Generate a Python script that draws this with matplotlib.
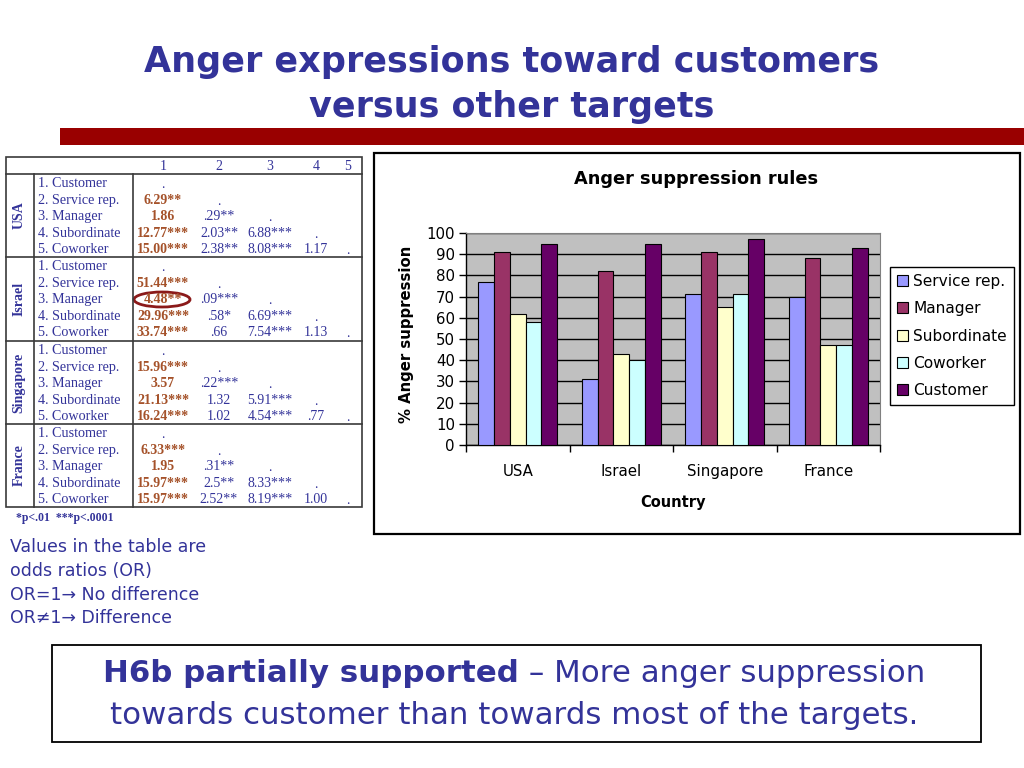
import matplotlib
matplotlib.use('Agg')
import matplotlib.pyplot as plt
from matplotlib.patches import Rectangle, Ellipse
import numpy as np

# ---------------- data ----------------
countries = ['USA', 'Israel', 'Singapore', 'France']
targets = ['Service rep.', 'Manager', 'Subordinate', 'Coworker', 'Customer']
service_rep = [77, 31, 71, 70]
manager = [91, 82, 91, 88]
subordinate = [62, 43, 65, 47]
coworker = [58, 40, 71, 47]
customer = [95, 95, 97, 93]
series = [service_rep, manager, subordinate, coworker, customer]
bar_colors = ['#9999ff', '#993366', '#ffffcc', '#ccffff', '#660066']

table_rows = ['1. Customer', '2. Service rep.', '3. Manager', '4. Subordinate', '5. Coworker']
table_cols = ['1', '2', '3', '4', '5']
or_usa = [['.'],
          ['6.29**', '.'],
          ['1.86', '.29**', '.'],
          ['12.77***', '2.03**', '6.88***', '.'],
          ['15.00***', '2.38**', '8.08***', '1.17', '.']]
or_israel = [['.'],
             ['51.44***', '.'],
             ['4.48**', '.09***', '.'],
             ['29.96***', '.58*', '6.69***', '.'],
             ['33.74***', '.66', '7.54***', '1.13', '.']]
or_singapore = [['.'],
                ['15.96***', '.'],
                ['3.57', '.22***', '.'],
                ['21.13***', '1.32', '5.91***', '.'],
                ['16.24***', '1.02', '4.54***', '.77', '.']]
or_france = [['.'],
             ['6.33***', '.'],
             ['1.95', '.31**', '.'],
             ['15.97***', '2.5**', '8.33***', '.'],
             ['15.97***', '2.52**', '8.19***', '1.00', '.']]
odds_tables = [or_usa, or_israel, or_singapore, or_france]

title_lines = ['Anger expressions toward customers', 'versus other targets']
note_lines = ['Values in the table are', 'odds ratios (OR)',
              'OR=1\u2192 No difference', 'OR\u22601\u2192 Difference']
summary_bold = 'H6b partially supported'
summary_rest = ' \u2013 More anger suppression'
summary_line2 = 'towards customer than towards most of the targets.'

# ---------------- figure ----------------
W, H = 1024, 768
NAVY = '#333399'
BROWN = '#a5522a'
SANS = ['DejaVu Sans']
SERIF = ['Liberation Serif', 'DejaVu Serif']

fig = plt.figure(figsize=(10.24, 7.68), dpi=100)
bg = fig.add_axes([0, 0, 1, 1])
bg.set_xlim(0, W)
bg.set_ylim(H, 0)
bg.axis('off')
renderer = fig.canvas.get_renderer()

# title
bg.text(512, 62, title_lines[0], ha='center', va='center', fontsize=25.2,
        fontweight='bold', color=NAVY, family=SANS)
bg.text(512, 107, title_lines[1], ha='center', va='center', fontsize=25.2,
        fontweight='bold', color=NAVY, family=SANS)
bg.add_patch(Rectangle((60, 128), 964, 17, facecolor='#990000', edgecolor='none'))

# ---------------- table ----------------
LC = '#3a3a3a'
tx0, tx1 = 6, 362
ty0, ty1 = 157, 507
bg.add_patch(Rectangle((tx0, ty0), tx1 - tx0, ty1 - ty0, fill=False, edgecolor=LC, lw=1.2))
bg.plot([tx0, tx1], [174, 174], color=LC, lw=1.2)
block_tops = [174, 257, 341, 424]
block_bottom = [257, 341, 424, 507]
for yb in block_tops[1:]:
    bg.plot([tx0, tx1], [yb, yb], color=LC, lw=1.2)
bg.plot([34, 34], [174, ty1], color=LC, lw=1.2)
bg.plot([133, 133], [174, ty1], color=LC, lw=1.2)

col_x = [163, 219, 270, 316, 348]
for c, lab in enumerate(table_cols):
    bg.text(col_x[c], 166, lab, ha='center', va='center', fontsize=10,
            color=NAVY, family=SERIF)

row_h = (block_bottom[0] - block_tops[0]) / 5.0
for b, (cname, tab) in enumerate(zip(countries, odds_tables)):
    top = block_tops[b]
    bot = block_bottom[b]
    bg.text(19, (top + bot) / 2, cname, rotation=90, ha='center', va='center',
            fontsize=10, fontweight='bold', color=NAVY, family=SERIF)
    for r, lab in enumerate(table_rows):
        yb = top + 9 + r * row_h + 4
        bg.text(38, yb, lab, ha='left', va='baseline', fontsize=10.2,
                color=NAVY, family=SERIF)
        for c, val in enumerate(tab[r]):
            if val == '.':
                bg.text(col_x[c], yb + 1, '.', ha='center', va='baseline',
                        fontsize=10, color=NAVY, family=SERIF)
            elif c == 0:
                bg.text(col_x[c], yb, val, ha='center', va='baseline',
                        fontsize=10, fontweight='bold', color=BROWN, family=SERIF)
            else:
                bg.text(col_x[c], yb, val, ha='center', va='baseline',
                        fontsize=10, color=NAVY, family=SERIF)

# circle around Israel manager value
bg.add_patch(Ellipse((162, 299.5), 56, 15, fill=False, edgecolor='#8b1a1a', lw=2))

bg.text(16, 518, '*p<.01  ***p<.0001', ha='left', va='center', fontsize=8.5,
        fontweight='bold', color=NAVY, family=SERIF)

# notes below table
for i, line in enumerate(note_lines):
    bg.text(10, 547 + i * 23.8, line, ha='left', va='center', fontsize=12.5,
            color=NAVY, family=SANS)

# bottom box
bg.add_patch(Rectangle((52, 645), 929, 97, fill=False, edgecolor='black', lw=1.3))
t1 = bg.text(0, 673, summary_bold, ha='left', va='center', fontsize=22.2,
             fontweight='bold', color=NAVY, family=SANS)
t2 = bg.text(0, 673, summary_rest, ha='left', va='center', fontsize=22.2,
             color=NAVY, family=SANS)
w1 = t1.get_window_extent(renderer).width
w2 = t2.get_window_extent(renderer).width
x_start = 514 - (w1 + w2) / 2
t1.set_x(x_start)
t2.set_x(x_start + w1)
bg.text(514, 716, summary_line2, ha='center', va='center', fontsize=22.2,
        color=NAVY, family=SANS)

# ---------------- bar chart ----------------
bg.add_patch(Rectangle((374, 153), 646, 381, fill=False, edgecolor='black', lw=1.6))
bg.text(696, 179, 'Anger suppression rules', ha='center', va='center', fontsize=12.8,
        fontweight='bold', color='black', family=SANS)

px0, px1, py0, py1 = 466, 880, 233, 445
ax = fig.add_axes([px0 / W, 1 - py1 / H, (px1 - px0) / W, (py1 - py0) / H])
ax.set_facecolor('#c0c0c0')
x = np.arange(len(countries))
bw = 0.152
for j, (vals, col, name) in enumerate(zip(series, bar_colors, targets)):
    ax.bar(x + (j - 2) * bw, vals, width=bw, color=col, edgecolor='black',
           linewidth=0.8, label=name, zorder=3)
ax.set_xlim(-0.5, len(countries) - 0.5)
ax.set_ylim(0, 100)
ax.set_yticks(range(0, 101, 10))
ax.yaxis.grid(True, color='black', lw=1, zorder=1)
ax.set_axisbelow(True)
ax.set_xticks(x)
ax.set_xticklabels(countries, family=SANS, fontsize=10.8)
ax.set_xticks(np.arange(-0.5, len(countries), 1.0), minor=True)
ax.tick_params(axis='x', which='major', length=0, pad=14)
ax.tick_params(axis='x', which='minor', length=5, width=1, direction='out')
ax.tick_params(axis='y', length=5, width=1, direction='out', pad=3, labelsize=10.8)
for lab in ax.get_yticklabels():
    lab.set_family(SANS)
for s in ['top', 'right']:
    ax.spines[s].set_color('#808080')
for s in ['left', 'bottom']:
    ax.spines[s].set_color('black')
    ax.spines[s].set_linewidth(1)

ax.set_xlabel('Country', fontsize=10.5, fontweight='bold', family=SANS)
ax.xaxis.set_label_coords(0.5, -(502 - py1) / (py1 - py0))
ax.xaxis.label.set_va('center')
ax.set_ylabel('% Anger suppression', fontsize=10.7, fontweight='bold', family=SANS)
ax.yaxis.set_label_coords((407 - px0) / (px1 - px0), 0.52)
ax.yaxis.label.set_va('center')

leg = ax.legend(loc='upper left', bbox_to_anchor=(890 / W, 1 - 267 / H),
                bbox_transform=fig.transFigure, frameon=True, fancybox=False,
                edgecolor='black', framealpha=1, prop={'family': SANS, 'size': 11.1},
                handlelength=0.7, handleheight=0.7, handletextpad=0.35,
                labelspacing=0.8, borderpad=0.45, borderaxespad=0)
leg.get_frame().set_linewidth(1)

fig.savefig('out.png', dpi=100)
